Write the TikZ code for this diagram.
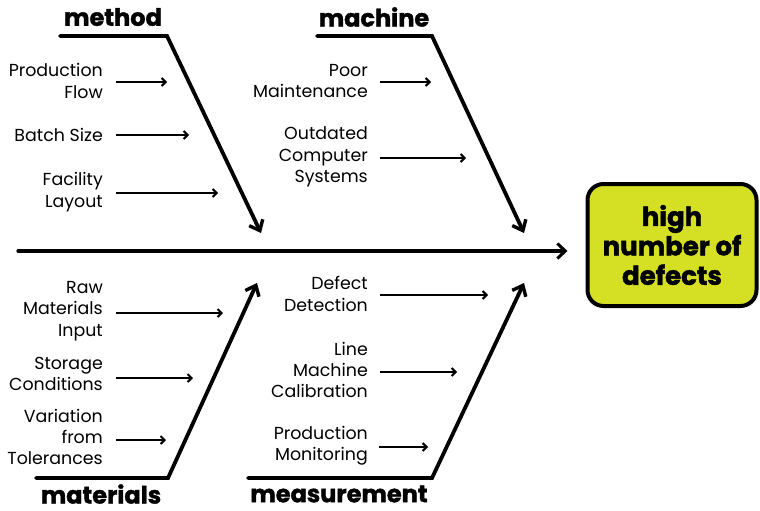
\documentclass[tikz,border=0pt]{standalone}
\usepackage{fontspec}
\setmainfont{Poppins}
\newfontfamily\heavyfont[BoldFeatures={FakeBold=1.6}]{Poppins}
\usetikzlibrary{arrows.meta}
\definecolor{effectfill}{RGB}{213,223,35}
\tikzset{
  bone/.style={line width=3.8pt, line cap=round, line join=miter,
    -{Straight Barb[length=9pt,width=15pt,line width=3.4pt]}},
  spine/.style={line width=3.2pt, line cap=round,
    -{Straight Barb[length=8pt,width=15pt,line width=3pt]}},
  sub/.style={line width=2.6pt,
    -{Straight Barb[length=4pt,width=8pt,line width=2pt]}},
  cause/.style={inner sep=0pt, align=right, anchor=east,
    font=\fontsize{17.4}{21.3}\selectfont},
  cat/.style={inner sep=0pt, font=\heavyfont\bfseries\fontsize{24}{28}\selectfont},
  effect/.style={draw, line width=4pt, rounded corners=16pt, fill=effectfill,
    minimum width=169pt, minimum height=122pt, align=center, inner sep=0pt,
    font=\heavyfont\bfseries\fontsize{26}{29.5}\selectfont}
}
\begin{document}
\begin{tikzpicture}[x=1pt,y=-1pt]
\useasboundingbox (0,0) rectangle (760,511);
% effect
\node[effect] (effect) at (672,245) {high\\number of\\defects};
% spine
\coordinate (s0) at (18,251);
\draw[spine, shorten >=18pt] (s0) -- (effect.west |- s0);
% method
\node[cat] (method) at (113,17) {method};
\coordinate (a1) at (60,36); \coordinate (a2) at (167,36); \coordinate (a3) at (261,233);
\draw[bone] (a1) -- (a2) -- (a3);
% machine
\node[cat] (machine) at (374,17) {machine};
\coordinate (b1) at (317,36); \coordinate (b2) at (432,36); \coordinate (b3) at (524,233);
\draw[bone] (b1) -- (b2) -- (b3);
% materials
\node[cat] (materials) at (101,494) {materials};
\coordinate (c1) at (36,478); \coordinate (c2) at (168,478); \coordinate (c3) at (257,283);
\draw[bone] (c1) -- (c2) -- (c3);
% measurement
\node[cat] (measurement) at (339,494) {measurement};
\coordinate (d1) at (248,478); \coordinate (d2) at (432,478); \coordinate (d3) at (524,283);
\draw[bone] (d1) -- (d2) -- (d3);
% method causes
\node[cause] (pf) at (103,81) {Production\\Flow};
\node[cause] (bs) at (103,135) {Batch Size};
\node[cause] (fl) at (103,192) {Facility\\Layout};
\coordinate (pfE) at (167,82); \coordinate (bsE) at (189,135); \coordinate (flE) at (218,193);
\draw[sub] ([xshift=13pt]pf.east |- pfE) -- (pfE);
\draw[sub] ([xshift=13pt]bs.east |- bsE) -- (bsE);
\draw[sub] ([xshift=13pt]fl.east |- flE) -- (flE);
% machine causes
\node[cause] (pm) at (368,81) {Poor\\Maintenance};
\node[cause] (oc) at (368,157) {Outdated\\Computer\\Systems};
\coordinate (pmE) at (431,82); \coordinate (ocE) at (466,158);
\draw[sub] ([xshift=12pt]pm.east |- pmE) -- (pmE);
\draw[sub] ([xshift=12pt]oc.east |- ocE) -- (ocE);
% materials causes
\node[cause] (rm) at (103,311) {Raw\\Materials\\Input};
\node[cause] (sc) at (103,374) {Storage\\Conditions};
\node[cause] (vt) at (103,437) {Variation\\from\\Tolerances};
\coordinate (rmE) at (223,313); \coordinate (scE) at (193,378); \coordinate (vtE) at (166,440);
\draw[sub] ([xshift=13pt]rm.east |- rmE) -- (rmE);
\draw[sub] ([xshift=13pt]sc.east |- scE) -- (scE);
\draw[sub] ([xshift=13pt]vt.east |- vtE) -- (vtE);
% measurement causes
\node[cause] (dd) at (368,294) {Defect\\Detection};
\node[cause] (lm) at (368,370) {Line\\Machine\\Calibration};
\node[cause] (mo) at (368,446) {Production\\Monitoring};
\coordinate (ddE) at (488,295); \coordinate (lmE) at (457,372); \coordinate (moE) at (428,447);
\draw[sub] ([xshift=12pt]dd.east |- ddE) -- (ddE);
\draw[sub] ([xshift=12pt]lm.east |- lmE) -- (lmE);
\draw[sub] ([xshift=11pt]mo.east |- moE) -- (moE);
\end{tikzpicture}
\end{document}
